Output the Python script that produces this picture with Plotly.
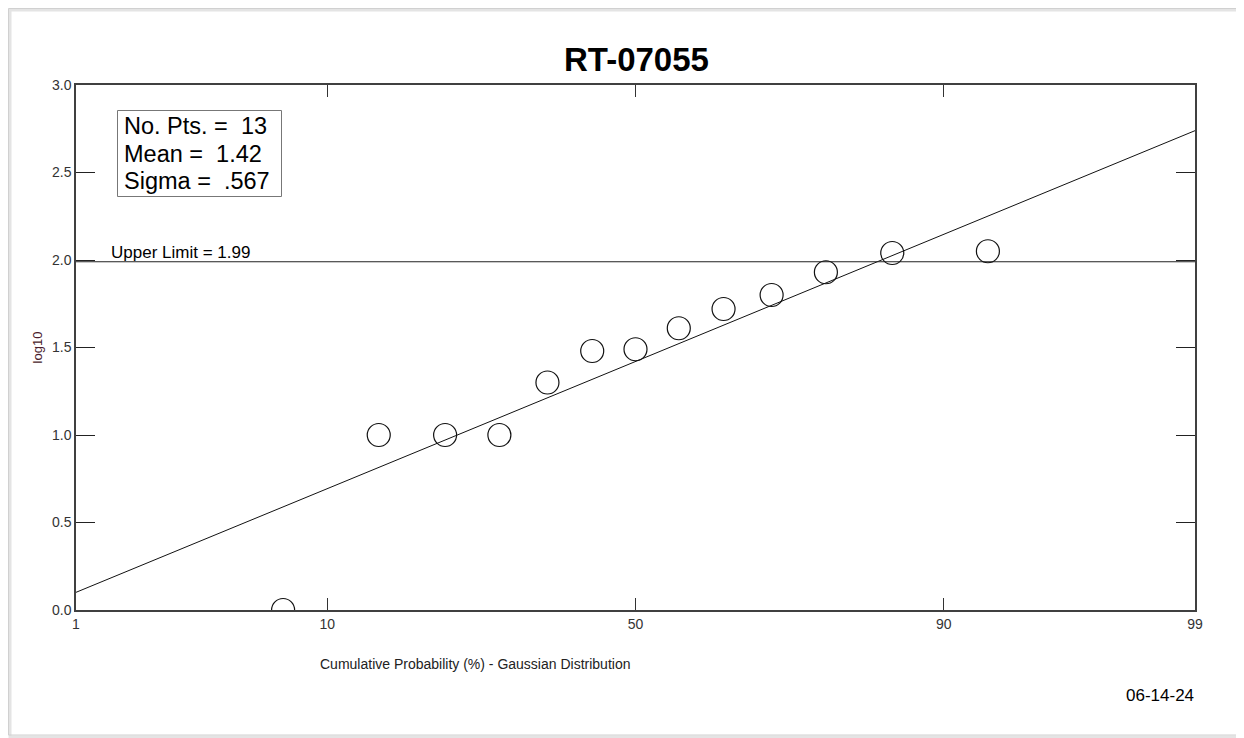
import plotly.graph_objects as go
from statistics import NormalDist

# ---- data ----
title = "RT-07055"
values = [0.0, 1.0, 1.0, 1.0, 1.30, 1.48, 1.49, 1.61, 1.72, 1.80, 1.93, 2.04, 2.05]
n_pts = 13
mean = 1.42
sigma = 0.567
upper_limit = 1.99
x_tick_pcts = [1, 10, 50, 90, 99]
y_tick_vals = [0.0, 0.5, 1.0, 1.5, 2.0, 2.5, 3.0]
date_text = "06-14-24"
stats_lines = [f"No. Pts. =  {n_pts}", f"Mean =  {mean:.2f}", "Sigma =  .567"]

nd = NormalDist()
z = lambda p: nd.inv_cdf(p)

# plotting positions i/(n+1)
px = [z((i + 1) / (n_pts + 1)) for i in range(len(values))]
zmin, zmax = z(0.01), z(0.99)

OFF = 8  # page body margin
W, H = 1244 - OFF, 738 - OFF
# plot area in page pixels: x 76..1195, y 85..610
L = 76 - OFF
T = 85 - OFF
R = W - (1195 - OFF)
B = H - (610 - OFF)
pw, ph = W - L - R, H - T - B

def paper_x(pix):
    return (pix - OFF - L) / pw

def paper_y(pix):
    return (H - B - (pix - OFF)) / ph

FONT = "Liberation Sans, Arial, sans-serif"

fig = go.Figure()

# fitted line
fig.add_trace(go.Scatter(
    x=[zmin, zmax], y=[mean + sigma * zmin, mean + sigma * zmax],
    mode="lines", line=dict(color="#111111", width=1), hoverinfo="skip"))

# upper limit line
fig.add_trace(go.Scatter(
    x=[zmin, zmax], y=[upper_limit, upper_limit],
    mode="lines", line=dict(color="#222222", width=1), hoverinfo="skip"))

# data points
fig.add_trace(go.Scatter(
    x=px, y=values, mode="markers",
    marker=dict(symbol="circle-open", size=23, color="#111111", line=dict(width=1.2, color="#111111")),
    cliponaxis=True))

tick_font = dict(family=FONT, size=14, color="#333333")

fig.update_xaxes(
    range=[zmin, zmax], tickmode="array",
    tickvals=[z(p / 100) for p in x_tick_pcts], ticktext=[str(p) for p in x_tick_pcts],
    ticks="inside", ticklen=12, tickcolor="#333333", tickwidth=1,
    showline=True, linecolor="#404040", linewidth=1.5, mirror="ticks",
    showgrid=False, zeroline=False, tickfont=tick_font)

fig.update_yaxes(
    range=[0, 3], tickmode="array",
    tickvals=y_tick_vals, ticktext=[f"{v:.1f}" for v in y_tick_vals],
    ticks="inside", ticklen=19, tickcolor="#222222", tickwidth=1,
    showline=True, linecolor="#404040", linewidth=1.5, mirror="ticks",
    showgrid=False, zeroline=False, tickfont=tick_font,
    title=dict(text="log10", font=dict(family=FONT, size=13, color="#4a1c2c"), standoff=6))

annotations = [
    dict(text=f"<b>{title}</b>", x=paper_x(636), y=paper_y(60), xref="paper", yref="paper",
         showarrow=False, font=dict(family=FONT, size=33, color="black"),
         xanchor="center", yanchor="middle"),
    dict(text=f"Upper Limit = {upper_limit}", x=paper_x(109), y=upper_limit, xref="paper", yref="y",
         showarrow=False, xanchor="left", yanchor="bottom", yshift=-2,
         font=dict(family=FONT, size=17, color="black")),
    dict(text="Cumulative Probability (%) - Gaussian Distribution", x=paper_x(475), y=paper_y(664),
         xref="paper", yref="paper", showarrow=False, xanchor="center", yanchor="middle",
         font=dict(family=FONT, size=14, color="#222222")),
    dict(text=date_text, x=paper_x(1196), y=paper_y(695), xref="paper", yref="paper", showarrow=False,
         xanchor="right", yanchor="middle",
         font=dict(family=FONT, size=17, color="black")),
]
for i, line in enumerate(stats_lines):
    annotations.append(dict(
        text=line, x=paper_x(122), y=paper_y(126 + 27.5 * i), xref="paper", yref="paper",
        showarrow=False, xanchor="left", yanchor="middle",
        font=dict(family=FONT, size=23.5, color="black")))

shapes = [
    # page frame shadow
    dict(type="rect", xref="paper", yref="paper",
         x0=paper_x(10), x1=paper_x(1242), y0=paper_y(737), y1=paper_y(10),
         line=dict(color="#e4e4e4", width=3), fillcolor="rgba(0,0,0,0)", layer="below"),
    # page frame
    dict(type="rect", xref="paper", yref="paper",
         x0=paper_x(8.5), x1=paper_x(1240), y0=paper_y(735), y1=paper_y(8.5),
         line=dict(color="#d0d0d0", width=1), fillcolor="rgba(0,0,0,0)", layer="below"),
    # stats box
    dict(type="rect", xref="paper", yref="paper",
         x0=paper_x(117.5), x1=paper_x(281.5), y0=paper_y(196.5), y1=paper_y(110.5),
         line=dict(color="#777777", width=1), fillcolor="rgba(0,0,0,0)"),
]

fig.update_layout(
    width=W, height=H, margin=dict(l=L, r=R, t=T, b=B),
    paper_bgcolor="white", plot_bgcolor="white", showlegend=False,
    annotations=annotations, shapes=shapes,
    font=dict(family=FONT))

fig.write_html("out.html")
